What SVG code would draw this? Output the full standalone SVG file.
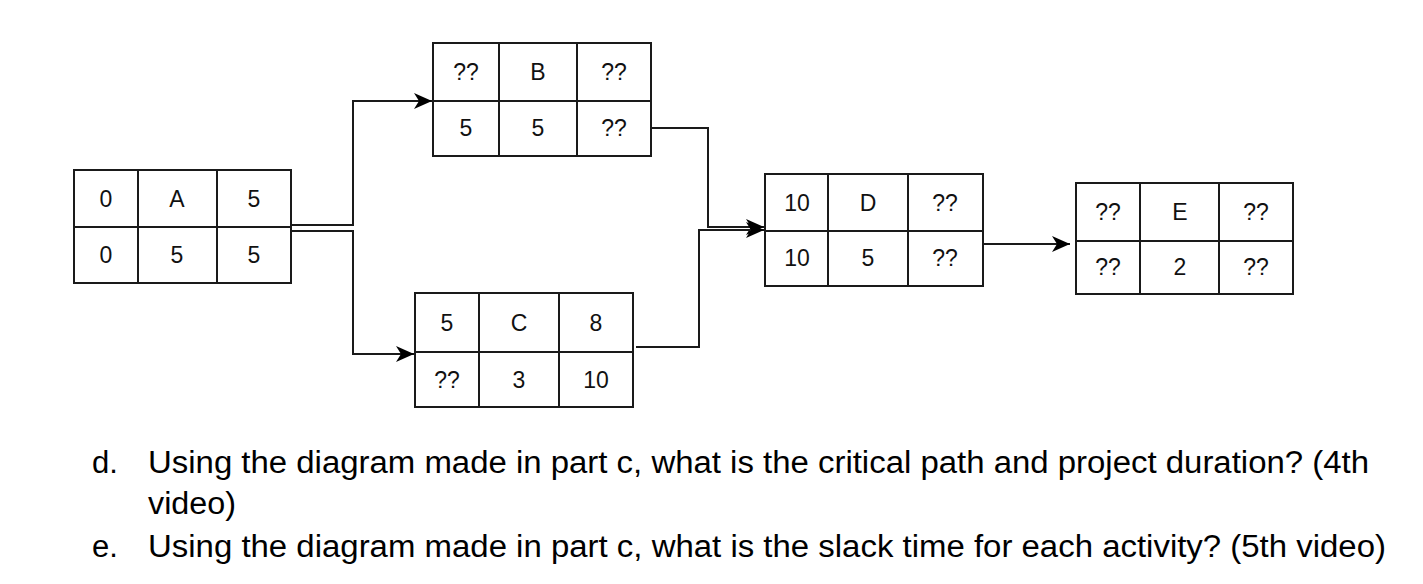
<svg xmlns="http://www.w3.org/2000/svg" width="1423" height="584" viewBox="0 0 1423 584">
<style>
.box{fill:#fff;stroke:#1a1a1a;stroke-width:2}
.ln{fill:none;stroke:#1a1a1a;stroke-width:2}
.t{font-family:"Liberation Sans",Arial,sans-serif;font-size:23px;fill:#111;text-anchor:middle;dominant-baseline:central}
.q{font-family:"Liberation Sans",Arial,sans-serif;font-size:31px;fill:#000}
</style>
<defs>
<marker id="arr" markerUnits="userSpaceOnUse" markerWidth="22" markerHeight="18" refX="18" refY="8" orient="auto" overflow="visible">
<path d="M0,0 L18,8 L0,16 L5,8 Z" fill="#000"/>
</marker>
</defs>
<rect width="1423" height="584" fill="#fff"/>
<g id="connectors">
<path class="ln" d="M291,225 H353 V101 H432" marker-end="url(#arr)"/>
<path class="ln" d="M291,231 H353 V354 H414" marker-end="url(#arr)"/>
<path class="ln" d="M651,128 H708 V227 H764" marker-end="url(#arr)"/>
<path class="ln" d="M636,347 H699 V230 H764" marker-end="url(#arr)"/>
<path class="ln" d="M983,244 H1070" marker-end="url(#arr)"/>
</g>
<g id="nodeA">
<rect class="box" x="74" y="170" width="217" height="113"/>
<path class="ln" d="M74,227 H291 M138,170 V283 M217,170 V283"/>
<text class="t" x="106" y="199">0</text><text class="t" x="177" y="199">A</text><text class="t" x="254" y="199">5</text>
<text class="t" x="106" y="255">0</text><text class="t" x="177" y="255">5</text><text class="t" x="254" y="255">5</text>
</g>
<g id="nodeB">
<rect class="box" x="433" y="43" width="218" height="113"/>
<path class="ln" d="M433,101 H651 M499,43 V156 M577,43 V156"/>
<text class="t" x="466" y="72">??</text><text class="t" x="538" y="72">B</text><text class="t" x="614" y="72">??</text>
<text class="t" x="466" y="128">5</text><text class="t" x="538" y="128">5</text><text class="t" x="614" y="128">??</text>
</g>
<g id="nodeC">
<rect class="box" x="415" y="293" width="218" height="114"/>
<path class="ln" d="M415,352 H633 M479,293 V407 M559,293 V407"/>
<text class="t" x="447" y="323">5</text><text class="t" x="519" y="323">C</text><text class="t" x="596" y="323">8</text>
<text class="t" x="447" y="380">??</text><text class="t" x="519" y="380">3</text><text class="t" x="596" y="380">10</text>
</g>
<g id="nodeD">
<rect class="box" x="765" y="174" width="218" height="112"/>
<path class="ln" d="M765,231 H983 M828,174 V286 M908,174 V286"/>
<text class="t" x="797" y="203">10</text><text class="t" x="868" y="203">D</text><text class="t" x="945" y="203">??</text>
<text class="t" x="797" y="258">10</text><text class="t" x="868" y="258">5</text><text class="t" x="945" y="258">??</text>
</g>
<g id="nodeE">
<rect class="box" x="1076" y="183" width="217" height="111"/>
<path class="ln" d="M1076,241 H1293 M1140,183 V294 M1219,183 V294"/>
<text class="t" x="1108" y="212">??</text><text class="t" x="1180" y="212">E</text><text class="t" x="1256" y="212">??</text>
<text class="t" x="1108" y="267">??</text><text class="t" x="1180" y="267">2</text><text class="t" x="1256" y="267">??</text>
</g>
<g id="questions">
<text class="q" x="92" y="473">d.</text>
<text class="q" x="148" y="473" textLength="1221" lengthAdjust="spacingAndGlyphs">Using the diagram made in part c, what is the critical path and project duration? (4th</text>
<text class="q" x="148" y="514" textLength="88" lengthAdjust="spacingAndGlyphs">video)</text>
<text class="q" x="92" y="557">e.</text>
<text class="q" x="148" y="557" textLength="1238" lengthAdjust="spacingAndGlyphs">Using the diagram made in part c, what is the slack time for each activity? (5th video)</text>
</g>
</svg>
